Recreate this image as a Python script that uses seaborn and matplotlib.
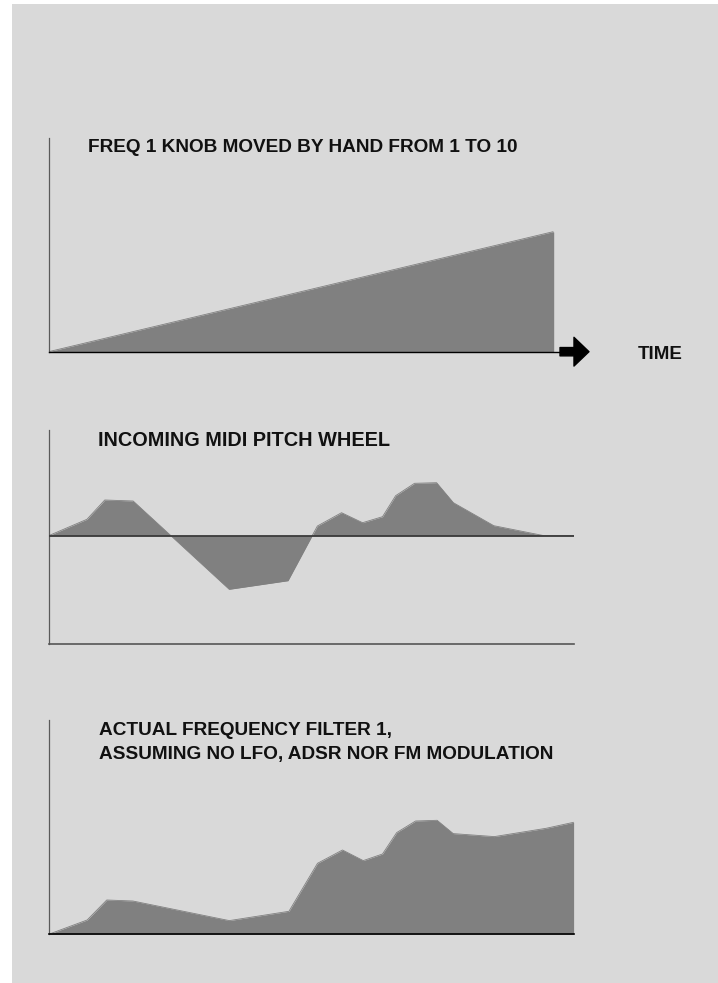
import matplotlib
matplotlib.use("Agg")
import matplotlib.pyplot as plt
import seaborn as sns
import pandas as pd
from matplotlib.patches import Rectangle

# ---- data (arbitrary units) ----
knob_time = [0, 96.1]
knob_value = [0, 12.0]

pitch_time = [0, 7.3, 10.7, 16.1, 23.3, 34.4, 45.6, 50.2, 51.2, 55.8, 59.8,
              63.6, 66.1, 69.7, 73.9, 77.1, 84.8, 94.4, 100]
pitch_value = [0, 1.64, 3.57, 3.47, 0, -5.36, -4.5, 0, 0.97, 2.3, 1.3,
               1.9, 4.0, 5.24, 5.3, 3.3, 1.0, 0, 0]

freq_time = [0, 7.34, 11.08, 16.05, 34.42, 45.78, 51.22, 55.98, 59.93,
             63.6, 66.3, 69.9, 74.0, 77.07, 84.9, 94.76, 100]
freq_value = [0, 1.43, 3.43, 3.33, 1.37, 2.3, 7.1, 8.43, 7.37,
              8.03, 10.17, 11.33, 11.4, 10.07, 9.77, 10.6, 11.2]

titles = ["FREQ 1 KNOB MOVED BY HAND FROM 1 TO 10",
          "INCOMING MIDI PITCH WHEEL",
          "ACTUAL FREQUENCY FILTER 1,",
          "ASSUMING NO LFO, ADSR NOR FM MODULATION"]
time_label = "TIME"

# ---- style ----
sns.set_style("white")
plt.rcParams["font.family"] = ["Liberation Sans", "DejaVu Sans"]

BG = "#d9d9d9"
FILL = "#808080"
W, H = 718, 983
fig = plt.figure(figsize=(W / 100, H / 100), dpi=100, facecolor="white")
fig.patches.append(Rectangle((12 / W, 0), 1 - 12 / W, 1 - 4 / H,
                             transform=fig.transFigure, facecolor=BG,
                             edgecolor="none", zorder=-10))


def add_ax(top, bottom):
    ax = fig.add_axes([48.6 / W, 1 - bottom / H, 525 / W, (bottom - top) / H])
    ax.set_facecolor("none")
    ax.set_zorder(1)
    ax.set_xlim(0, 100)
    for s in ("top", "right"):
        ax.spines[s].set_visible(False)
    ax.spines["left"].set_color("#5a5a5a")
    ax.spines["left"].set_linewidth(0.9)
    return ax


def clean(ax):
    ax.set_xticks([])
    ax.set_yticks([])
    ax.set_xlabel("")
    ax.set_ylabel("")
    ax.set_xlim(0, 100)


def area(ax, t, v):
    df = pd.DataFrame({"t": t, "v": v})
    sns.lineplot(data=df, x="t", y="v", ax=ax, color=FILL, linewidth=0.6,
                 estimator=None, sort=False)
    ax.fill_between(df["t"], 0, df["v"], color=FILL, linewidth=0)


# top panel
ax1 = add_ax(138, 351.7)
area(ax1, knob_time, knob_value)
ax1.vlines(knob_time[-1], 0, knob_value[-1], color=FILL, linewidth=1.0)
clean(ax1)
ax1.set_ylim(0, 21.37)
ax1.spines["bottom"].set_color("black")
ax1.spines["bottom"].set_linewidth(1.0)
ax1.annotate("", xy=(102.93, 0), xytext=(97.41, 0), xycoords="data",
             annotation_clip=False,
             arrowprops=dict(arrowstyle="simple,head_length=10.8,head_width=20.7,tail_width=6.0",
                             mutation_scale=1, color="black", shrinkA=0, shrinkB=0))
fig.text(637.5 / W, 1 - 359 / H, time_label, fontsize=13.5, fontweight="bold",
         va="baseline", ha="left", color="#111111")

# middle panel
ax2 = add_ax(430, 644)
area(ax2, pitch_time, pitch_value)
ax2.axhline(0, color="#3a3a3a", linewidth=1.3, zorder=3)
clean(ax2)
ax2.set_ylim(-10.83, 10.57)
ax2.spines["bottom"].set_color("#555555")
ax2.spines["bottom"].set_linewidth(1.2)

# bottom panel
ax3 = add_ax(720, 934.3)
area(ax3, freq_time, freq_value)
clean(ax3)
ax3.set_ylim(0, 21.43)
ax3.spines["bottom"].set_color("black")
ax3.spines["bottom"].set_linewidth(1.2)

# titles
tkw = dict(fontsize=13.7, fontweight="bold", va="baseline", ha="left", color="#111111")
fig.text(87.7 / W, 1 - 151.7 / H, titles[0], **tkw)
fig.text(97.9 / W, 1 - 446 / H, titles[1], fontsize=14.3, fontweight="bold",
         va="baseline", ha="left", color="#111111")
fig.text(98.9 / W, 1 - 735 / H, titles[2], **tkw)
fig.text(98.9 / W, 1 - 759.3 / H, titles[3], **tkw)

fig.savefig("out.png", dpi=100, facecolor="white")
